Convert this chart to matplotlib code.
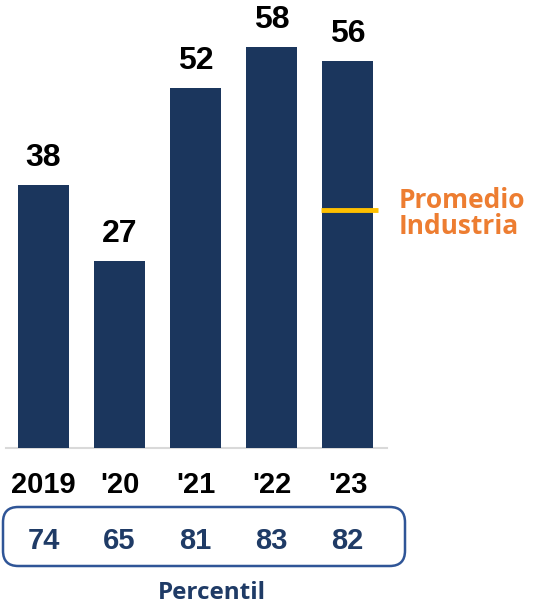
import matplotlib
matplotlib.use("Agg")
import matplotlib.pyplot as plt
from matplotlib.patches import FancyBboxPatch

years = ["2019", "'20", "'21", "'22", "'23"]
values = [38, 27, 52, 58, 56]
percentiles = [74, 65, 81, 83, 82]
industry_avg = 34.4

bar_color = "#1B365D"
navy_text = "#1F3B66"
orange = "#ED7D31"
gold = "#FFC000"

W, H = 538, 606
fig = plt.figure(figsize=(W / 100, H / 100), dpi=100)
ax = fig.add_axes([0, 0, 1, 1])
ax.axis("off")

px_per_x = 76.0
x0_px = 43.5
base_px = 448.0
px_per_y = 6.914
ax.set_xlim(-x0_px / px_per_x, (W - x0_px) / px_per_x)
ax.set_ylim(-(H - base_px) / px_per_y, base_px / px_per_y)

def py(p):  # pixel-from-top to data y
    return (base_px - p) / px_per_y

def px(p):
    return (p - x0_px) / px_per_x

xs = list(range(len(values)))
ax.bar(xs, values, width=0.67, color=bar_color, zorder=2)

# baseline
ax.plot([px(6), px(387)], [0, 0], color="#D9D9D9", lw=1.5, zorder=1)

# value labels
for x, v in zip(xs, values):
    ax.text(x, v + 19 / px_per_y, str(v), ha="center", va="baseline",
            fontsize=23, fontweight="bold", family="Liberation Sans", color="black")

# year labels
for x, y in zip(xs, years):
    ax.text(x, py(493), y, ha="center", va="baseline", fontsize=21,
            fontweight="bold", family="Liberation Sans", color="black")

# percentile box
box = FancyBboxPatch((px(3), py(566)), px(405) - px(3), py(507) - py(566),
                     boxstyle="round,pad=0,rounding_size=0.2",
                     mutation_aspect=px_per_x / px_per_y,
                     fc="none", ec="#2F5597", lw=1.8, clip_on=False, zorder=3)
ax.add_patch(box)
for x, p in zip(xs, percentiles):
    ax.text(x, py(549), str(p), ha="center", va="baseline", fontsize=21,
            fontweight="bold", family="Liberation Sans", color=navy_text)

ax.text(px(212), py(599), "Percentil", ha="center", va="baseline", fontsize=17.5,
        fontweight="bold", family="Open Sans", color=navy_text)

# industry average
ax.plot([px(321), px(378)], [industry_avg, industry_avg], color=gold, lw=3.5,
        solid_capstyle="butt", zorder=3)
ax.text(px(399), py(208), "Promedio", ha="left", va="baseline", fontsize=19,
        fontweight="bold", family="Open Sans", color=orange)
ax.text(px(399), py(234), "Industria", ha="left", va="baseline", fontsize=19,
        fontweight="bold", family="Open Sans", color=orange)

fig.savefig("out.png", dpi=100)
